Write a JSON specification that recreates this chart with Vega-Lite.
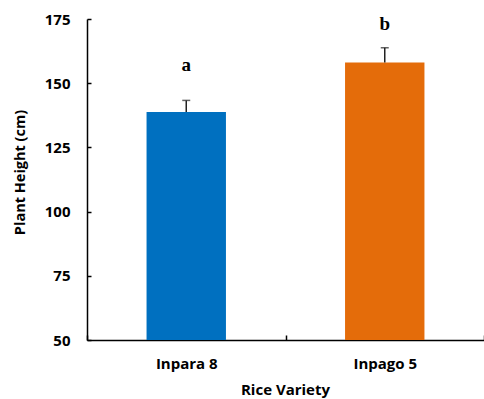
{
  "$schema": "https://vega.github.io/schema/vega-lite/v6.json",
  "width": 397,
  "height": 321,
  "autosize": {"type": "none"},
  "padding": {"left": 87, "top": 19, "right": 0, "bottom": 59},
  "background": "white",
  "config": {"view": {"stroke": null}},
  "data": {
    "values": [
      {"variety": "Inpara 8", "height": 138.8, "upper": 143.3, "letter": "a", "label_y": 154.8},
      {"variety": "Inpago 5", "height": 158.1, "upper": 163.8, "letter": "b", "label_y": 170.7}
    ]
  },
  "encoding": {
    "x": {
      "field": "variety",
      "type": "nominal",
      "sort": ["Inpara 8", "Inpago 5"],
      "scale": {"paddingInner": 0, "paddingOuter": 0},
      "axis": {
        "title": "Rice Variety",
        "labelAngle": 0,
        "labelFont": "Open Sans",
        "labelFontWeight": "bold",
        "labelFontSize": 15,
        "labelColor": "black",
        "labelPadding": 21,
        "titleFont": "Open Sans",
        "titleFontWeight": "bold",
        "titleFontSize": 15,
        "titleColor": "black",
        "titleX": 198,
        "titleY": 49,
        "titleBaseline": "middle",
        "domainColor": "black",
        "domainWidth": 1.5,
        "ticks": true,
        "tickColor": "black",
        "tickWidth": 1.5,
        "tickSize": -5,
        "tickBand": "extent"
      }
    }
  },
  "layer": [
    {
      "mark": {"type": "bar", "width": {"band": 0.4}},
      "encoding": {
        "y": {
          "field": "height",
          "type": "quantitative",
          "scale": {"domain": [50, 175], "nice": false, "zero": false},
          "axis": {
            "title": "Plant Height (cm)",
            "values": [50, 75, 100, 125, 150, 175],
            "grid": false,
            "labelFont": "Open Sans",
            "labelFontWeight": "bold",
            "labelFontSize": 15,
            "labelColor": "black",
            "labelPadding": 21,
            "titleFont": "Open Sans",
            "titleFontWeight": "bold",
            "titleFontSize": 14.5,
            "titleColor": "black",
            "titleX": -67,
            "titleY": 153,
            "titleBaseline": "middle",
            "titleAlign": "center",
            "titleAngle": -90,
            "domainColor": "black",
            "domainWidth": 1.5,
            "ticks": true,
            "tickColor": "black",
            "tickWidth": 1.5,
            "tickSize": -4
          }
        },
        "y2": {"datum": 50},
        "color": {
          "field": "variety",
          "type": "nominal",
          "scale": {"domain": ["Inpara 8", "Inpago 5"], "range": ["#0070C0", "#E46C0A"]},
          "legend": null
        }
      }
    },
    {
      "mark": {"type": "rule", "color": "#222222", "strokeWidth": 1.5},
      "encoding": {
        "y": {"field": "height", "type": "quantitative"},
        "y2": {"field": "upper"}
      }
    },
    {
      "mark": {"type": "tick", "color": "#222222", "thickness": 1.5, "size": 8, "orient": "horizontal"},
      "encoding": {
        "y": {"field": "upper", "type": "quantitative"}
      }
    },
    {
      "mark": {"type": "text", "font": "Liberation Serif", "fontWeight": "bold", "fontSize": 19, "baseline": "alphabetic", "color": "black"},
      "encoding": {
        "y": {"field": "label_y", "type": "quantitative"},
        "text": {"field": "letter"}
      }
    }
  ]
}
